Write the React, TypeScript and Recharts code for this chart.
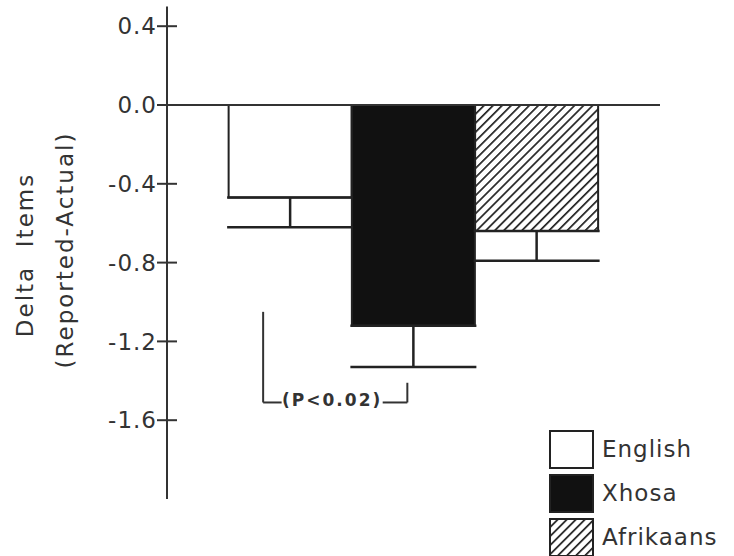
import React from 'react';
import {
  BarChart,
  Bar,
  Cell,
  ErrorBar,
  XAxis,
  YAxis,
  ReferenceLine,
  ReferenceDot,
  Legend,
} from 'recharts';

// language groups, mean delta and lower error (SE)
const groups = ['English', 'Xhosa', 'Afrikaans'];
const positions = [1, 2, 3];
const means = [-0.47, -1.12, -0.64];
const lowerErrors = [0.15, 0.21, 0.15];
const yTicks = [0.4, 0, -0.4, -0.8, -1.2, -1.6];

// significance bracket between English and Xhosa
const bracketX = [0.78, 0.93, 1.75, 1.95];
const bracketY = [-1.05, -1.51, -1.41];
const bracketText = '(P<0.02)';

const INK = '#333';
const FONT = '"DejaVu Sans", sans-serif';
const fills = ['#fff', '#111', 'url(#hatch)'];

const data = groups.map((name, i) => ({
  name,
  pos: positions[i],
  value: means[i],
  err: [lowerErrors[i], 0],
}));

const YTick = (props: any) => {
  const { x, y, payload } = props;
  return (
    <g>
      <line x1={x - 10} x2={x + 10} y1={y} y2={y} stroke={INK} strokeWidth={2} />
      <text
        x={x - 10}
        y={y}
        dy="0.36em"
        textAnchor="end"
        fill={INK}
        fontSize={23}
        fontFamily={FONT}
        letterSpacing={1}
      >
        {payload.value.toFixed(1)}
      </text>
    </g>
  );
};

const YLabel = () => (
  <g fill={INK} fontFamily={FONT} fontSize={23} letterSpacing={2}>
    <text x={33} y={255} textAnchor="middle" transform="rotate(-90, 33, 255)">
      Delta{'\u00a0\u00a0'}Items
    </text>
    <text x={73} y={250} textAnchor="middle" transform="rotate(-90, 73, 250)">
      (Reported-Actual)
    </text>
  </g>
);

const LegendBox = ({ fill }: { fill: string }) => (
  <svg width={45} height={39} style={{ display: 'block' }}>
    <defs>
      <pattern id="hatchLegend" width={6.4} height={6.4} patternUnits="userSpaceOnUse" patternTransform="rotate(45)">
        <rect width={6.4} height={6.4} fill="#fff" />
        <line x1={0} y1={0} x2={0} y2={6.4} stroke="#222" strokeWidth={3.4} />
      </pattern>
    </defs>
    <rect
      x={1}
      y={1}
      width={43}
      height={37}
      fill={fill === 'url(#hatch)' ? 'url(#hatchLegend)' : fill}
      stroke="#222"
      strokeWidth={2}
    />
  </svg>
);

const renderLegend = () => (
  <div style={{ fontFamily: FONT, fontSize: 23, color: INK, letterSpacing: 1 }}>
    {groups.map((g, i) => (
      <div key={g} style={{ display: 'flex', alignItems: 'center', height: 44 }}>
        <LegendBox fill={fills[i]} />
        <span style={{ marginLeft: 8 }}>{g}</span>
      </div>
    ))}
  </div>
);

export default function App() {
  return (
    <div style={{ position: 'absolute', left: 0, top: 0, width: 734, height: 556, background: '#fff' }}>
      <BarChart
        width={734}
        height={556}
        data={data}
        margin={{ top: 6.5, right: 74, bottom: 57, left: 0 }}
      >
        <defs>
          <pattern id="hatch" width={6.4} height={6.4} patternUnits="userSpaceOnUse" patternTransform="rotate(45)">
            <rect width={6.4} height={6.4} fill="#fff" />
            <line x1={0} y1={0} x2={0} y2={6.4} stroke="#222" strokeWidth={3.4} />
          </pattern>
        </defs>
        <XAxis dataKey="pos" type="number" domain={[0, 4]} hide />
        <YAxis
          type="number"
          domain={[-2, 0.5]}
          ticks={yTicks}
          interval={0}
          width={167}
          axisLine={{ stroke: INK, strokeWidth: 2 }}
          tickLine={false}
          tickSize={0}
          tickMargin={0}
          tick={<YTick />}
          label={<YLabel />}
        />
        <Bar dataKey="value" barSize={123} stroke="#222" strokeWidth={2} isAnimationActive={false}>
          {data.map((d, i) => (
            <Cell key={d.name} fill={fills[i]} />
          ))}
          <ErrorBar dataKey="err" direction="y" width={63} stroke="#222" strokeWidth={2.5} />
        </Bar>
        <ReferenceLine y={0} stroke={INK} strokeWidth={2} />
        <ReferenceLine
          segment={[{ x: bracketX[0], y: bracketY[0] }, { x: bracketX[0], y: bracketY[1] }]}
          stroke={INK}
          strokeWidth={2}
        />
        <ReferenceLine
          segment={[{ x: bracketX[0], y: bracketY[1] }, { x: bracketX[1], y: bracketY[1] }]}
          stroke={INK}
          strokeWidth={2}
        />
        <ReferenceLine
          segment={[{ x: bracketX[2], y: bracketY[1] }, { x: bracketX[3], y: bracketY[1] }]}
          stroke={INK}
          strokeWidth={2}
        />
        <ReferenceLine
          segment={[{ x: bracketX[3], y: bracketY[1] }, { x: bracketX[3], y: bracketY[2] }]}
          stroke={INK}
          strokeWidth={2}
        />
        <ReferenceDot
          x={(bracketX[1] + bracketX[2]) / 2}
          y={bracketY[1]}
          r={0}
          fill="none"
          stroke="none"
          label={{
            value: bracketText,
            position: 'center',
            fill: INK,
            fontSize: 17,
            fontWeight: 'bold',
            fontFamily: FONT,
            letterSpacing: 2,
            dy: -3,
          }}
        />
        <Legend
          layout="vertical"
          align="center"
          verticalAlign="middle"
          content={renderLegend}
          wrapperStyle={{ left: 549, top: 427, width: 185 }}
        />
      </BarChart>
    </div>
  );
}
